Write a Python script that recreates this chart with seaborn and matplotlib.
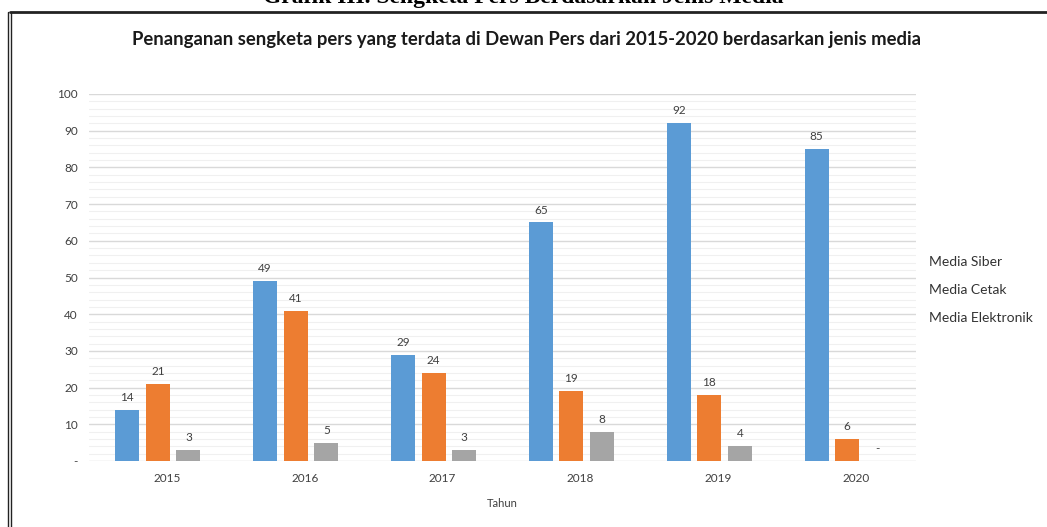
import numpy as np
import matplotlib
matplotlib.use('Agg')
import matplotlib.pyplot as plt
import matplotlib.transforms as mtransforms
from matplotlib.lines import Line2D
import pandas as pd
import seaborn as sns

# data
years = ['2015', '2016', '2017', '2018', '2019', '2020']
media_siber = [14, 49, 29, 65, 92, 85]
media_cetak = [21, 41, 24, 19, 18, 6]
media_elektronik = [3, 5, 3, 8, 4, 0]
series_names = ['Media Siber', 'Media Cetak', 'Media Elektronik']
colors = ['#5B9BD5', '#ED7D31', '#A5A5A5']

df = pd.DataFrame({
    'Tahun': years * 3,
    'Jumlah': media_siber + media_cetak + media_elektronik,
    'Jenis': [series_names[0]] * 6 + [series_names[1]] * 6 + [series_names[2]] * 6,
})

sns.set_theme(style='white')
plt.rcParams['font.family'] = ['Lato', 'DejaVu Sans']

fig = plt.figure(figsize=(10.47, 5.27), dpi=100)
ax = fig.add_axes([89 / 1047, 1 - 461 / 527, (916 - 89) / 1047, (461 - 94) / 527])

sns.barplot(data=df, x='Tahun', y='Jumlah', hue='Jenis', hue_order=series_names,
            palette=colors, width=0.665, gap=0.215, ax=ax, legend=False,
            saturation=1, linewidth=0)

ax.set_xlim(-0.5, 5.5)
ax.set_ylim(0, 100)

# grid kayak excel
ax.set_yticks(np.arange(0, 101, 10))
ax.set_yticks(np.arange(0, 101, 2), minor=True)
ax.set_yticklabels(['-'] + [str(v) for v in range(10, 101, 10)], fontsize=8.5, color='#404040')
ax.grid(axis='y', which='major', color='#D9D9D9', linewidth=1)
ax.grid(axis='y', which='minor', color='#F0F0F0', linewidth=0.8)
ax.grid(axis='x', visible=False)
ax.set_axisbelow(True)
ax.tick_params(axis='both', which='both', length=0)
ax.tick_params(axis='y', pad=8)
ax.tick_params(axis='x', pad=9, labelsize=8.5, labelcolor='#404040')
for s in ax.spines.values():
    s.set_visible(False)

# label tahun agak geser ke kanan seperti aslinya
shift = mtransforms.ScaledTranslation(9 / 100, 0, fig.dpi_scale_trans)
for lbl in ax.get_xticklabels():
    lbl.set_transform(lbl.get_transform() + shift)

ax.set_xlabel('Tahun', fontsize=8, color='#404040', labelpad=10)
ax.set_ylabel('')

# angka di atas batang
for cont in ax.containers:
    labels = ['-' if v == 0 else f'{v:.0f}' for v in cont.datavalues]
    ax.bar_label(cont, labels=labels, padding=5, fontsize=8.5, color='#404040')

# legenda cuma teks
handles = [Line2D([], [], linestyle='none', marker=None) for _ in series_names]
leg = fig.legend(handles, series_names, loc='center left',
                 bbox_to_anchor=(922 / 1047, 1 - 290 / 527), frameon=False,
                 handlelength=0, handletextpad=0, borderpad=0, labelspacing=1.15,
                 fontsize=10)
for t in leg.get_texts():
    t.set_color('#333333')

fig.text(0.503, 1 - 40 / 527, 'Penanganan sengketa pers yang terdata di Dewan Pers dari 2015-2020 berdasarkan jenis media',
         ha='center', va='center', fontsize=13.3, fontweight='bold', color='#1a1a1a')

# judul grafik yang terpotong di atas
fig.text(0.5, 1 - 3 / 527, 'Grafik III. Sengketa Pers Berdasarkan Jenis Media',
         ha='center', va='baseline', fontsize=17, fontweight='bold',
         family=['Liberation Serif'], color='black')

# bingkai
fig.add_artist(Line2D([10 / 1047, 1], [1 - 12 / 527] * 2, color='#222222', linewidth=2))
fig.add_artist(Line2D([8 / 1047] * 2, [0, 1 - 12 / 527], color='#222222', linewidth=1))
fig.add_artist(Line2D([11 / 1047] * 2, [0, 1 - 12 / 527], color='#222222', linewidth=1))

fig.savefig('out.png', dpi=100)
